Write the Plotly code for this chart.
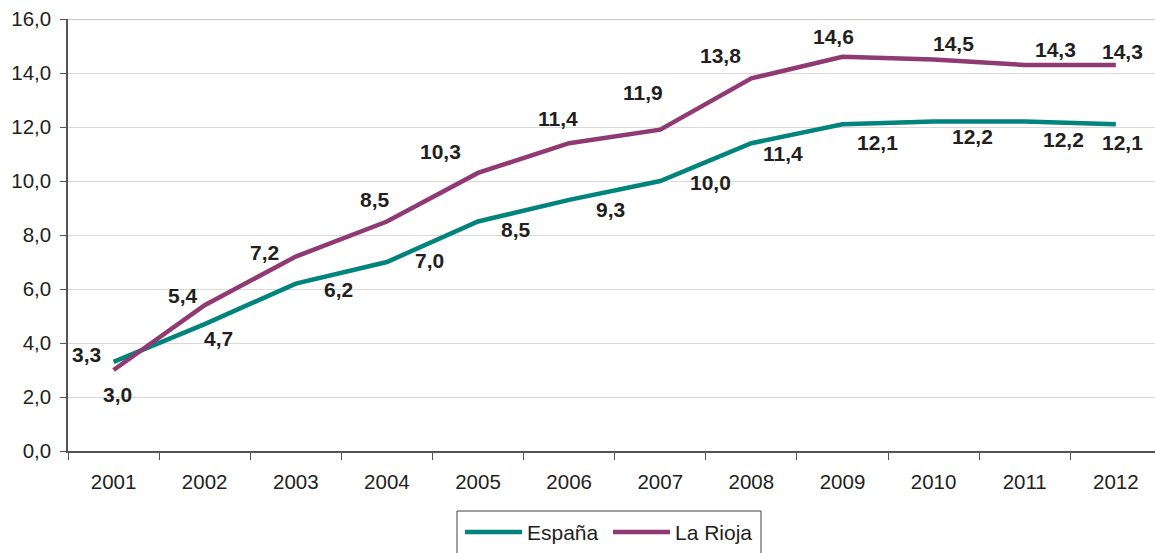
import plotly.graph_objects as go

years = ["2001", "2002", "2003", "2004", "2005", "2006", "2007", "2008", "2009", "2010", "2011", "2012"]
espana = [3.3, 4.7, 6.2, 7.0, 8.5, 9.3, 10.0, 11.4, 12.1, 12.2, 12.2, 12.1]
rioja = [3.0, 5.4, 7.2, 8.5, 10.3, 11.4, 11.9, 13.8, 14.6, 14.5, 14.3, 14.3]

# label offsets (pixels, style only)
esp_off = [(-27, 7), (14, -14), (43, -6), (43, 2), (38, -8), (41, -10), (50, -1),
           (32, -10), (35, -18), (39, -15), (39, -18), (7, -18)]
rio_off = [(4, -24), (-22, 10), (-31, 4), (-12, 22), (-38, 21), (-11, 25), (-17, 37),
           (-31, 23), (-9, 20), (20, 16), (31, 15), (7, 13)]

TEAL = "#00847c"
PURPLE = "#8f3a73"
FONT = "Liberation Sans, Arial, sans-serif"

W, H = 1155, 553
ML, MR, MT, MB = 68, 0, 19, 102
PW = W - ML - MR
PH = H - MT - MB

fig = go.Figure()
fig.add_trace(go.Scatter(x=years, y=espana, mode="lines", name="España",
                         line=dict(color=TEAL, width=4.5), showlegend=False))
fig.add_trace(go.Scatter(x=years, y=rioja, mode="lines", name="La Rioja",
                         line=dict(color=PURPLE, width=4.5), showlegend=False))

def fmt(v):
    return f"{v:.1f}".replace(".", ",")

annos = []
for series, offs in ((espana, esp_off), (rioja, rio_off)):
    for i, (v, (dx, dy)) in enumerate(zip(series, offs)):
        annos.append(dict(x=i, y=v, xref="x", yref="y", text=fmt(v), showarrow=False,
                          xshift=dx, yshift=dy,
                          font=dict(family=FONT, size=21, color="#231f20", weight="bold")))

def px_x(p):
    return (p - ML) / PW

def px_y(p):
    return (H - MB - p) / PH

# custom legend
shapes = [
    dict(type="rect", xref="paper", yref="paper", x0=px_x(457), x1=px_x(761),
         y0=px_y(570), y1=px_y(511), line=dict(color="#444444", width=1), fillcolor="rgba(0,0,0,0)"),
    dict(type="line", xref="paper", yref="paper", x0=px_x(465), x1=px_x(522),
         y0=px_y(532), y1=px_y(532), line=dict(color=TEAL, width=4.5)),
    dict(type="line", xref="paper", yref="paper", x0=px_x(613), x1=px_x(670),
         y0=px_y(532), y1=px_y(532), line=dict(color=PURPLE, width=4.5)),
    dict(type="line", xref="paper", yref="y", x0=0, x1=1, y0=16, y1=16,
         line=dict(color="#c8c8c8", width=2)),
]
annos.append(dict(x=px_x(525), y=px_y(532), xref="paper", yref="paper", text="España",
                  showarrow=False, xanchor="left", yanchor="middle",
                  font=dict(family=FONT, size=21, color="#231f20")))
annos.append(dict(x=px_x(673), y=px_y(532), xref="paper", yref="paper", text="La Rioja",
                  showarrow=False, xanchor="left", yanchor="middle",
                  font=dict(family=FONT, size=21, color="#231f20")))

fig.update_layout(
    width=W, height=H,
    margin=dict(l=ML, r=MR, t=MT, b=MB),
    paper_bgcolor="white", plot_bgcolor="white",
    separators=",.",
    font=dict(family=FONT, size=20, color="#231f20"),
    annotations=annos,
    shapes=shapes,
    showlegend=False,
)
fig.update_xaxes(type="category", range=[-0.5, 11.43], showgrid=False,
                 showline=True, linecolor="#555555", linewidth=1.5,
                 ticks="outside", tickson="boundaries", ticklen=7, tickcolor="#555555",
                 tickwidth=1, ticklabelstandoff=12,
                 tickfont=dict(size=20.5, color="#231f20"))
fig.update_yaxes(range=[0, 16], dtick=2, tickformat=".1f", showgrid=True,
                 gridcolor="#d9d9d9", gridwidth=1, zeroline=False,
                 showline=True, linecolor="#555555", linewidth=1.5,
                 ticks="outside", ticklen=6, tickcolor="#555555", ticklabelstandoff=5,
                 tickfont=dict(size=20.5, color="#231f20"))

fig.write_html("out.html", config={"displayModeBar": False},
               post_script="document.body.style.margin='0';document.body.style.overflow='hidden';")
